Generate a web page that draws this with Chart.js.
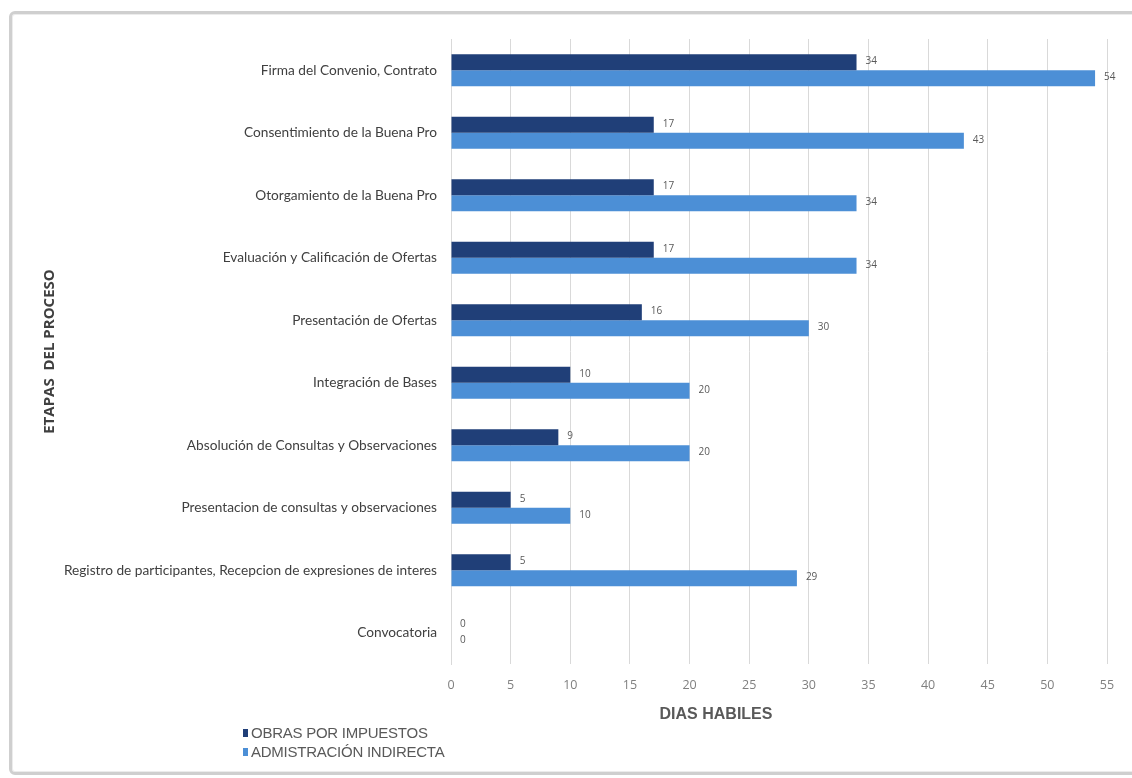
<!DOCTYPE html>
<html>
<head>
<meta charset="utf-8">
<script src="https://cdn.jsdelivr.net/npm/chart.js@4"></script>
<style>
  html, body { margin: 0; padding: 0; background: #ffffff; }
  body { width: 1132px; height: 778px; position: relative; overflow: hidden; }
  #frame { position: absolute; left: 9px; top: 11px; width: 1140px; height: 758px;
           border: 3px solid #cfcfcf; border-radius: 6px; box-shadow: inset 0 0 0 1px #ececec; }
  #wrap { position: absolute; left: 0; top: 0; width: 1132px; height: 778px; }
  #legend { position: absolute; left: 243px; top: 723px; font-family: "Liberation Sans", Arial, sans-serif;
            font-size: 15px; color: #595959; line-height: 19px; letter-spacing: -0.25px; }
  #legend .box { display: inline-block; width: 5px; height: 8px; margin-right: 3px; vertical-align: 1px; }
</style>
</head>
<body>
<div id="frame"></div>
<div id="wrap"><canvas id="c" width="1132" height="778"></canvas></div>
<div id="legend"></div>
<script>
const categories = [
  "Firma del Convenio, Contrato",
  "Consentimiento de la Buena Pro",
  "Otorgamiento de la Buena Pro",
  "Evaluación y Calificación de Ofertas",
  "Presentación de Ofertas",
  "Integración de Bases",
  "Absolución de Consultas y Observaciones",
  "Presentacion de consultas y observaciones",
  "Registro de participantes, Recepcion de expresiones de interes",
  "Convocatoria"
];
const obrasPorImpuestos = [34, 17, 17, 17, 16, 10, 9, 5, 5, 0];
const administracionIndirecta = [54, 43, 34, 34, 30, 20, 20, 10, 29, 0];
const seriesNames = ["OBRAS POR IMPUESTOS", "ADMISTRACIÓN INDIRECTA"];
const xTicks = [0, 5, 10, 15, 20, 25, 30, 35, 40, 45, 50, 55];
const xAxisTitle = "DIAS HABILES";
const yAxisTitle = "ETAPAS  DEL PROCESO";

const valueLabels = {
  id: 'valueLabels',
  afterDatasetsDraw(chart) {
    const ctx = chart.ctx;
    ctx.save();
    ctx.font = '10px "Open Sans", sans-serif';
    ctx.fillStyle = '#595959';
    ctx.textAlign = 'left';
    ctx.textBaseline = 'middle';
    chart.data.datasets.forEach((ds, i) => {
      const meta = chart.getDatasetMeta(i);
      meta.data.forEach((bar, j) => {
        ctx.fillText(String(ds.data[j]), bar.x + 9, bar.y - 1);
      });
    });
    ctx.restore();
  }
};

const xTitle = {
  id: 'xTitle',
  afterDraw(chart) {
    const ctx = chart.ctx;
    const a = chart.chartArea;
    ctx.save();
    ctx.font = 'bold 16px "Liberation Sans", Arial, sans-serif';
    ctx.fillStyle = '#595959';
    ctx.textAlign = 'center';
    ctx.textBaseline = 'middle';
    ctx.fillText(xAxisTitle, (a.left + a.right) / 2 - 63, a.bottom + 51);
    ctx.restore();
  }
};

const chart = new Chart(document.getElementById('c'), {
  type: 'bar',
  data: {
    labels: categories,
    datasets: [
      { label: seriesNames[0], data: obrasPorImpuestos, backgroundColor: '#203f78', borderWidth: 0 },
      { label: seriesNames[1], data: administracionIndirecta, backgroundColor: '#4c8fd6', borderWidth: 0 }
    ]
  },
  options: {
    indexAxis: 'y',
    responsive: false,
    animation: false,
    devicePixelRatio: 1,
    categoryPercentage: 0.51,
    barPercentage: 1.0,
    layout: { padding: { left: 38, right: 25, top: 39, bottom: 71 } },
    plugins: {
      legend: { display: false },
      tooltip: { enabled: false }
    },
    scales: {
      x: {
        min: 0, max: 55,
        afterBuildTicks(scale) { scale.ticks = xTicks.map(v => ({ value: v })); },
        grid: { color: '#d9d9d9', drawTicks: false },
        border: { display: false },
        ticks: { color: '#7f7f7f', padding: 14, font: { family: '"Open Sans", sans-serif', size: 12.5 } },
        title: { display: false }
      },
      y: {
        afterFit(scale) { scale.width = 413; },
        grid: { display: false, drawTicks: false },
        border: { display: true, color: '#d9d9d9' },
        ticks: { color: '#404040', padding: 14, font: { family: 'Lato, "Open Sans", sans-serif', size: 13.7 } },
        title: { display: true, text: yAxisTitle, color: '#404040', padding: { top: 3, bottom: 0 },
                 font: { family: '"Open Sans", sans-serif', size: 15, weight: 'bold' } }
      }
    }
  },
  plugins: [valueLabels, xTitle]
});

const leg = document.getElementById('legend');
chart.data.datasets.forEach(ds => {
  const row = document.createElement('div');
  const box = document.createElement('span');
  box.className = 'box';
  box.style.background = ds.backgroundColor;
  row.appendChild(box);
  row.appendChild(document.createTextNode(ds.label));
  leg.appendChild(row);
});
</script>
</body>
</html>
